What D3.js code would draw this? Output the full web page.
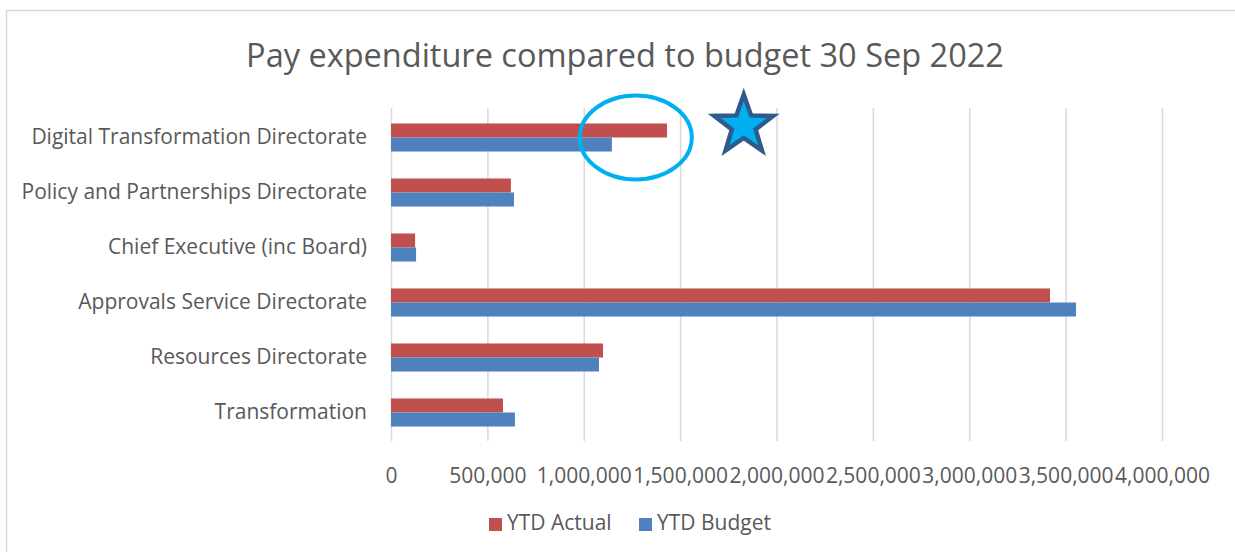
<!DOCTYPE html>
<html><head><meta charset="utf-8">
<script src="https://cdn.jsdelivr.net/npm/d3@7"></script>
<style>html,body{margin:0;padding:0;background:#fff;overflow:hidden}</style>
</head><body>
<script>
const categories = ["Digital Transformation Directorate","Policy and Partnerships Directorate","Chief Executive (inc Board)","Approvals Service Directorate","Resources Directorate","Transformation"];
const seriesNames = ["YTD Actual","YTD Budget"];
const ytdActual = [1432000, 622000, 125000, 3419000, 1100000, 581000];
const ytdBudget = [1146000, 638000, 130000, 3554000, 1079000, 643000];
const tickValues = [0,500000,1000000,1500000,2000000,2500000,3000000,3500000,4000000];
const title = "Pay expenditure compared to budget 30 Sep 2022";

const W = 1235, H = 552;
const colors = {"YTD Actual":"#c0504d","YTD Budget":"#4f81bd"};
const font = "'Open Sans', 'Noto Sans', sans-serif";
const txt = "#595959";

const svg = d3.select("body").append("svg").attr("width", W).attr("height", H);
svg.append("rect").attr("x",6.5).attr("y",10.5).attr("width",1240).attr("height",600)
  .attr("fill","#fff").attr("stroke","#d9d9d9").attr("stroke-width",1.5);

const x = d3.scaleLinear().domain([0,4000000]).range([391,1162]);
const y = d3.scaleBand().domain(categories).range([110,440]).paddingInner(0.49).paddingOuter(0.245);
const ySub = d3.scaleBand().domain(seriesNames).range([0,y.bandwidth()]);

// gridlines
svg.append("g").selectAll("line").data(tickValues).join("line")
  .attr("x1",d=>x(d)+0.5).attr("x2",d=>x(d)+0.5).attr("y1",108).attr("y2",441)
  .attr("stroke","#d9d9d9").attr("stroke-width",1.5);

// title
svg.append("text").attr("x",625).attr("y",67).attr("text-anchor","middle")
  .attr("font-family",font).attr("font-size",32.5).attr("fill",txt).text(title);

// bars
const rows = categories.map((c,i)=>({c, vals:[{s:"YTD Actual",v:ytdActual[i]},{s:"YTD Budget",v:ytdBudget[i]}]}));
const g = svg.append("g");
g.selectAll("g").data(rows).join("g").attr("transform",d=>`translate(0,${y(d.c)})`)
 .selectAll("rect").data(d=>d.vals).join("rect")
  .attr("x",x(0)).attr("y",d=>ySub(d.s)).attr("width",d=>x(d.v)-x(0)).attr("height",ySub.bandwidth())
  .attr("fill",d=>colors[d.s]);

// category labels
const yAxis = d3.axisLeft(y).tickSize(0).tickPadding(24);
const ya = svg.append("g").attr("transform",`translate(391,0)`).call(yAxis);
ya.select(".domain").remove();
ya.selectAll("text").attr("font-family",font).attr("font-size",21).attr("fill",txt);

// x axis
const xAxis = d3.axisBottom(x).tickValues(tickValues).tickSize(0).tickPadding(21).tickFormat(d3.format(","));
const xa = svg.append("g").attr("transform",`translate(0,447)`).call(xAxis);
xa.select(".domain").remove();
xa.selectAll("text").attr("font-family",font).attr("font-size",21).attr("fill",txt);

// legend
const legend = svg.append("g");
const lx = [489, 639];
seriesNames.forEach((s,i)=>{
  legend.append("rect").attr("x",lx[i]).attr("y",518).attr("width",13).attr("height",13).attr("fill",colors[s]);
  legend.append("text").attr("x",lx[i]+18).attr("y",530).attr("font-family",font).attr("font-size",21).attr("fill",txt).text(s);
});

// annotations
const dCat = categories[0];
const cy = y(dCat) + y.bandwidth()/2;
svg.append("ellipse").attr("cx",x(1270000)).attr("cy",cy).attr("rx",56).attr("ry",42)
  .attr("fill","none").attr("stroke","#00b0f0").attr("stroke-width",4);
const R = 31, r = 12.5, scx = x(1830000), scy = cy - 12;
const pts = d3.range(10).map(k=>{const a = -Math.PI/2 + k*Math.PI/5; const rr = k%2?r:R; return [scx+rr*Math.cos(a), scy+rr*Math.sin(a)];});
svg.append("polygon").attr("points",pts.map(p=>p.join(",")).join(" "))
  .attr("fill","#00b0f0").attr("stroke","#2e5a8e").attr("stroke-width",4.5).attr("stroke-linejoin","miter");
</script>
</body></html>
